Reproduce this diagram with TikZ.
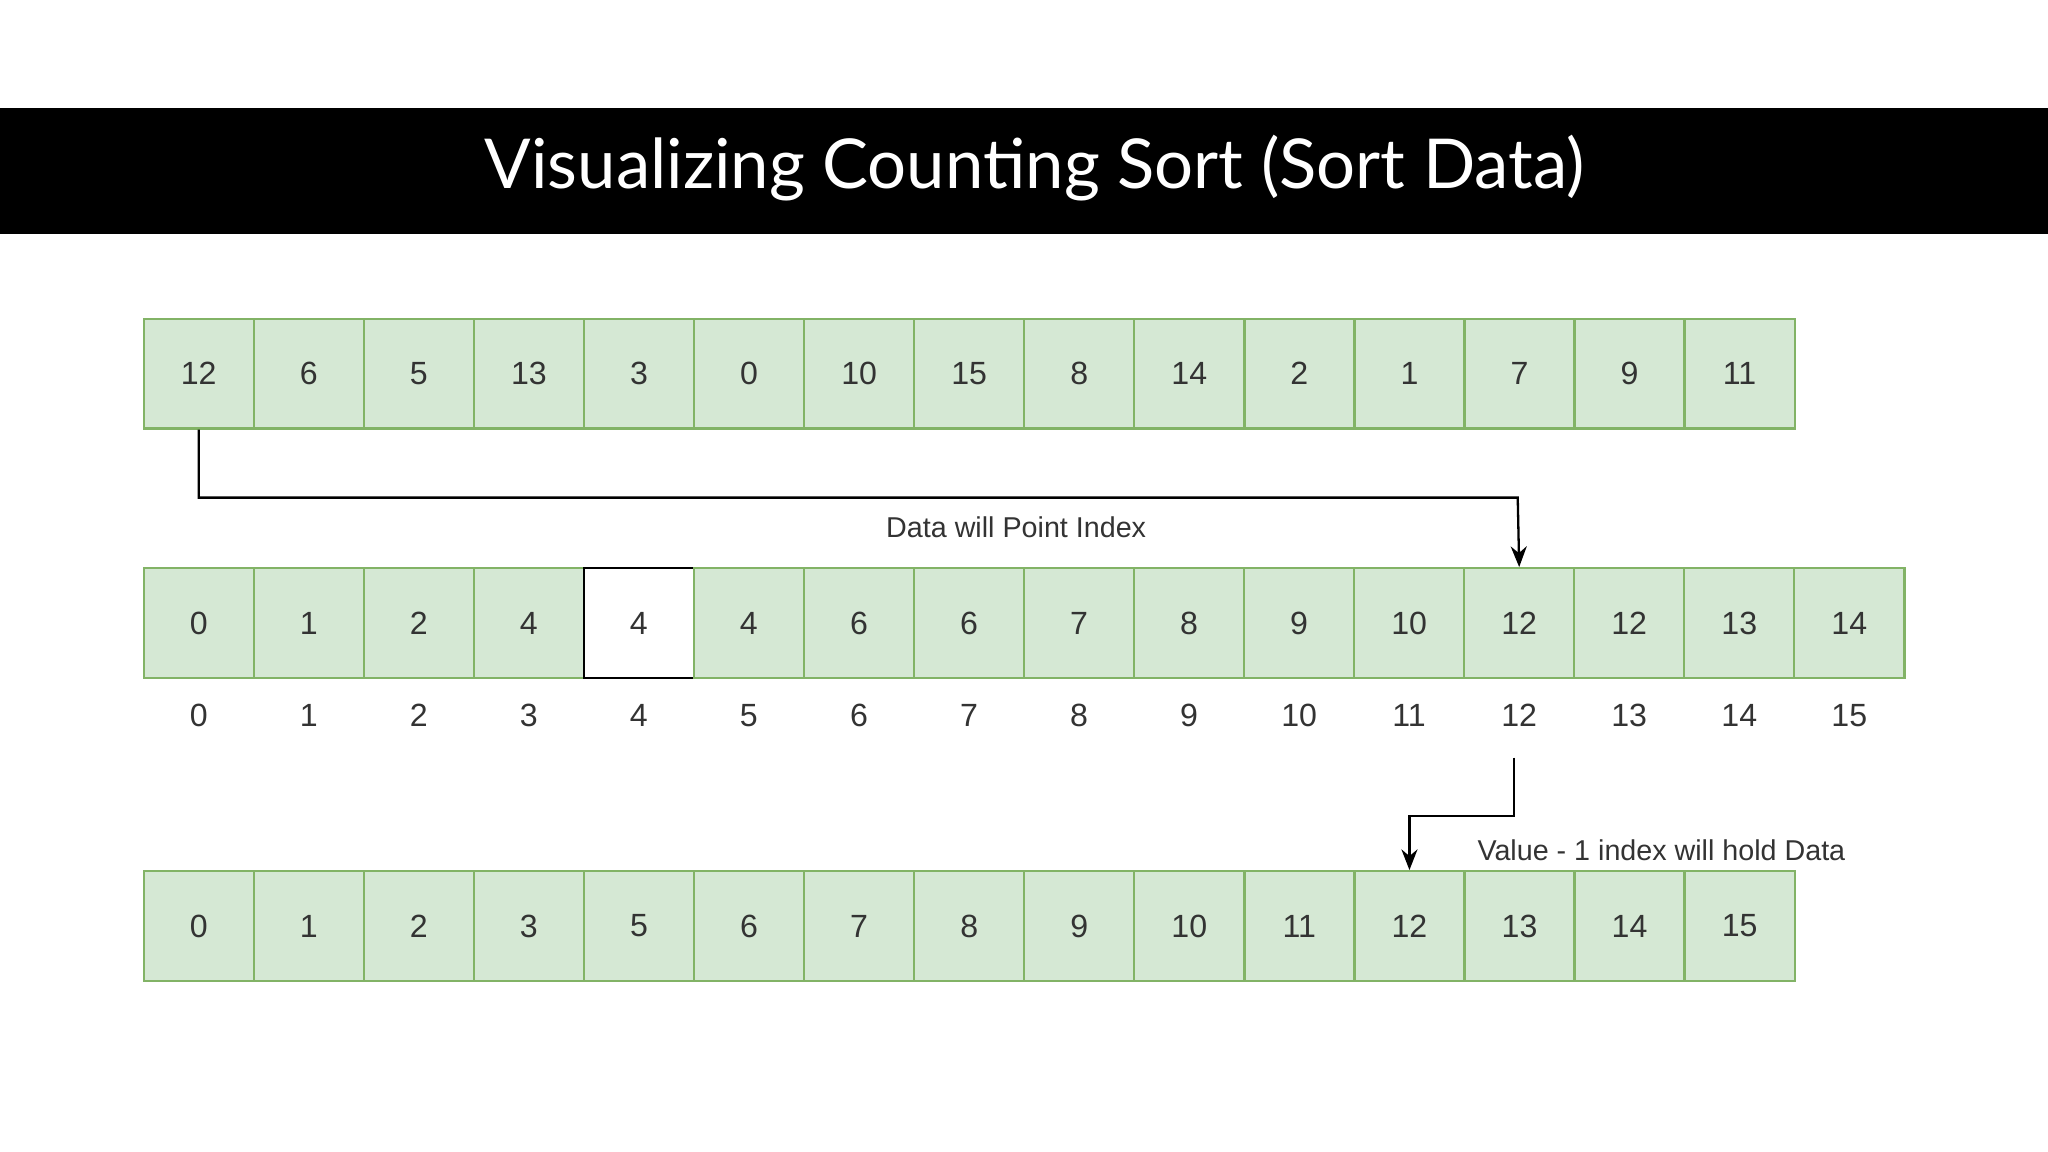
\documentclass[tikz,border=0pt]{standalone}
\usepackage{fontspec}
\setmainfont{Liberation Sans}
\newfontfamily\titlefont{Lato}
\usetikzlibrary{arrows.meta}
\definecolor{cellfill}{HTML}{D5E8D4}
\definecolor{cellline}{HTML}{82B366}
\definecolor{txt}{HTML}{333333}
\begin{document}
\begin{tikzpicture}[x=0.02cm,y=-0.02cm,
  cell/.style={draw=cellline,fill=cellfill,line width=1pt,minimum width=84.27*0.02cm,minimum height=84*0.02cm,inner sep=0pt,font=\fontsize{14}{16}\selectfont,text=txt},
  whitecell/.style={cell,draw=black,fill=white},
  idx/.style={font=\fontsize{14}{16}\selectfont,text=txt},
  lbl/.style={font=\fontsize{12.5}{15}\selectfont,text=txt},
  conn/.style={draw=black,line width=1pt,-{Stealth[length=9pt,width=7pt]}}]
\useasboundingbox (0,0) rectangle (1568,882);
\fill[white] (0,0) rectangle (1568,882);
\fill[black] (0,83) rectangle (1568,179);
\node[text=white,font=\titlefont\fontsize{30}{34}\selectfont] (title) at (792,129) {Visualizing Counting Sort (Sort Data)};
\foreach \v [count=\i from 0] in {12,6,5,13,3,0,10,15,8,14,2,1,7,9,11}
  \node[cell] (a\i) at ({110+84.27*(\i+0.5)},286) {\v};
\foreach \v [count=\i from 0] in {0,1,2,4,4,4,6,6,7,8,9,10,12,12,13,14}{
  \ifnum\i=4
    \node[whitecell] (b\i) at ({110+84.25*(\i+0.5)},477) {\v};
  \else
    \node[cell] (b\i) at ({110+84.25*(\i+0.5)},477) {\v};
  \fi
  \node[idx] (i\i) at ({110+84.25*(\i+0.5)},548) {\i};}
\foreach \v [count=\i from 0] in {0,1,2,3,5,6,7,8,9,10,11,12,13,14,15}
  \node[cell] (c\i) at ({110+84.27*(\i+0.5)},709) {\v};
\draw[conn] (a0.south) |- (1162,381) -- (b12.north);
\node[lbl] (l1) at (778,404) {Data will Point Index};
\coordinate (s2) at (1159,580);
\draw[conn] (s2) -- (1159,625) -| (c11.north);
\node[lbl] (l2) at (1272,651) {Value - 1 index will hold Data};
\end{tikzpicture}
\end{document}
